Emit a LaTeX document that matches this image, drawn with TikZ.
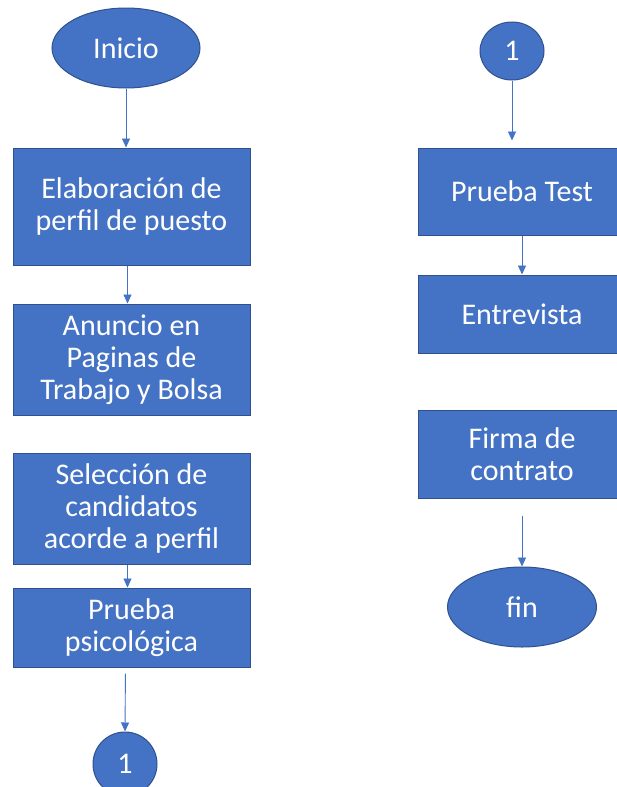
\documentclass[tikz,border=0pt]{standalone}
\usepackage{fontspec}
\setmainfont{Carlito}
\usetikzlibrary{shapes.geometric,arrows.meta}
\definecolor{fillblue}{HTML}{4472C4}
\definecolor{edgeblue}{HTML}{2F528F}
\tikzset{
  procbox/.style={rectangle, draw=edgeblue, fill=fillblue, line width=1pt, text=white,
    align=center, font=\fontsize{30}{32}\selectfont, inner sep=0pt},
  term/.style={ellipse, draw=edgeblue, fill=fillblue, line width=1pt, text=white,
    font=\fontsize{30}{32}\selectfont, inner sep=0pt},
  flow/.style={draw=fillblue, line width=0.9pt, -{Triangle[length=9pt,width=8pt]}}
}
\begin{document}
\begin{tikzpicture}[x=1pt,y=-1pt]
\useasboundingbox (0,0) rectangle (617,787);
\clip (0,0) rectangle (617,787);
\fill[white] (0,0) rectangle (617,787);
% left column
\node[term, minimum width=148pt, minimum height=80pt] (ini) at (126,48) {Inicio};
\node[procbox, minimum width=237pt, minimum height=117pt] (b1) at (131.5,206.5) {Elaboración de\\perfil de puesto};
\node[procbox, minimum width=237pt, minimum height=111pt] (b2) at (131.5,359.5) {Anuncio en\\Paginas de\\Trabajo y Bolsa};
\node[procbox, minimum width=237pt, minimum height=111pt] (b3) at (131.5,508.5) {Selección de\\candidatos\\acorde a perfil};
\node[procbox, minimum width=237pt, minimum height=79pt] (b4) at (131.5,627.5) {Prueba\\psicológica};
\node[term, minimum width=64pt, minimum height=64pt] (c1) at (125,764) {1};
% right column
\node[term, minimum width=64pt, minimum height=58pt] (c2) at (512,51) {1};
\node[procbox, minimum width=208pt, minimum height=87pt] (pt) at (522,191.5) {Prueba Test};
\node[procbox, minimum width=208pt, minimum height=78pt] (ent) at (522,314) {Entrevista};
\node[procbox, minimum width=208pt, minimum height=88pt] (fc) at (522,454) {Firma de\\contrato};
\node[term, minimum width=149pt, minimum height=80pt] (fin) at (522,607) {fin};
% connectors
\draw[flow] (ini.south) -- (ini.south |- b1.north);
\draw[flow] ([xshift=-4pt]b1.south) -- ([xshift=-4pt]b2.north);
\draw[flow] ([xshift=-4pt]b3.south) -- ([xshift=-4pt]b4.north);
\draw[flow, shorten <=6pt] ([xshift=-6pt]b4.south) -- (c1.north);
\draw[flow, shorten >=7pt] (c2.south) -- (c2.south |- pt.north);
\draw[flow] (pt.south) -- (ent.north);
\draw[flow, shorten <=17pt] (fc.south) -- (fin.north);
\end{tikzpicture}
\end{document}
